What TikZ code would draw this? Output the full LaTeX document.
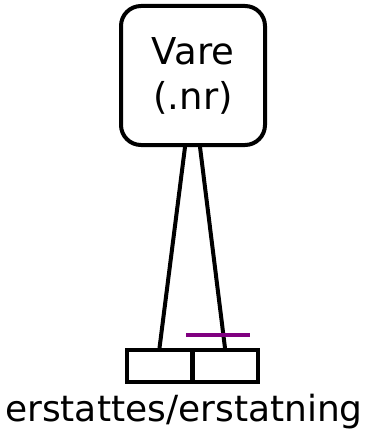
\documentclass[tikz,border=0pt]{standalone}
\usepackage{fontspec}
\setmainfont{DejaVu Sans}
\definecolor{relpurple}{RGB}{128,0,128}
\begin{document}
\begin{tikzpicture}[x=1pt,y=-1pt,
  entity/.style={draw=black,line width=4pt,rounded corners=20pt,minimum width=144pt,minimum height=139pt,inner sep=0pt,align=center,font=\fontsize{37}{45}\selectfont},
  relhalf/.style={draw=black,line width=4pt,minimum width=65pt,minimum height=32pt,inner sep=0pt},
  link/.style={line width=4pt,black}]
\useasboundingbox (0,0) rectangle (367,436);
\node[entity] (vare) at (193,75.5) {Vare\\(.nr)};
\node[relhalf] (rl) at (159.5,366) {};
\node[relhalf] (rr) at (225,366) {};
\coordinate (t1) at ([xshift=-8pt]vare.south);
\coordinate (t2) at ([xshift=7pt]vare.south);
\draw[link] (t1) -- (rl.north);
\draw[link] (t2) -- (rr.north);
\coordinate (p1) at (186,335);
\coordinate (p2) at (250,335);
\draw[relpurple,line width=4pt] (p1) -- (p2);
\node[font=\fontsize{36}{43}\selectfont,inner sep=0pt] (lab) at (184,412) {erstattes/erstatning};
\end{tikzpicture}
\end{document}
